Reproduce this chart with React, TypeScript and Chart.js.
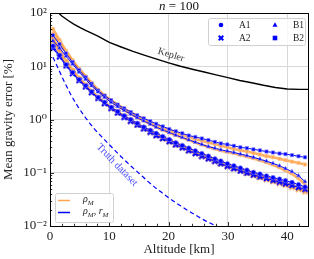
import React, { useEffect, useRef } from 'react';
import { Chart, registerables } from 'chart.js';

Chart.register(...registerables);

// ---------------- data ----------------
const altitudes = [0.5, 1.6, 2.7, 3.8, 4.9, 6.0, 7.0, 8.1, 9.2, 10.3, 11.4, 12.5, 13.6, 14.7, 15.8, 16.9, 17.9, 19.0, 20.1, 21.2, 22.3, 23.4, 24.5, 25.6, 26.7, 27.8, 28.8, 29.9, 31.0, 32.1, 33.2, 34.3, 35.4, 36.5, 37.6, 38.7, 39.7, 40.8, 41.9, 43.0];

// rho_M (orange)
const a1Rho = [35, 20, 12.5, 8.5, 6.0, 4.5, 3.4, 2.65, 2.1, 1.7, 1.4, 1.16, 0.98, 0.83, 0.71, 0.61, 0.53, 0.465, 0.41, 0.36, 0.318, 0.283, 0.252, 0.225, 0.2, 0.178, 0.16, 0.144, 0.13, 0.118, 0.107, 0.097, 0.089, 0.082, 0.075, 0.069, 0.063, 0.058, 0.052, 0.046];
const a2Rho = [30, 18, 11.5, 8.0, 5.7, 4.3, 3.3, 2.55, 2.02, 1.64, 1.35, 1.12, 0.94, 0.8, 0.68, 0.585, 0.505, 0.44, 0.385, 0.337, 0.297, 0.262, 0.232, 0.206, 0.184, 0.165, 0.148, 0.133, 0.12, 0.108, 0.098, 0.089, 0.082, 0.075, 0.069, 0.064, 0.059, 0.054, 0.049, 0.044];
const b1Rho = [42, 28, 18.5, 12.5, 8.7, 6.3, 4.7, 3.5, 2.75, 2.2, 1.8, 1.5, 1.27, 1.09, 0.94, 0.82, 0.72, 0.635, 0.565, 0.505, 0.455, 0.41, 0.37, 0.335, 0.305, 0.28, 0.26, 0.245, 0.23, 0.215, 0.2, 0.185, 0.17, 0.155, 0.14, 0.125, 0.11, 0.095, 0.078, 0.06];
const b2Rho = [50, 31, 19.5, 13, 9.0, 6.5, 4.9, 3.6, 2.85, 2.3, 1.9, 1.6, 1.36, 1.17, 1.02, 0.9, 0.8, 0.71, 0.63, 0.57, 0.52, 0.47, 0.43, 0.4, 0.37, 0.345, 0.32, 0.3, 0.28, 0.265, 0.25, 0.235, 0.22, 0.205, 0.195, 0.183, 0.172, 0.162, 0.153, 0.143];

// rho_M, r_M (blue)
const a1RhoR = [24, 16, 10.7, 7.6, 5.6, 4.3, 3.3, 2.6, 2.1, 1.7, 1.41, 1.17, 1.0, 0.85, 0.72, 0.63, 0.55, 0.48, 0.42, 0.365, 0.325, 0.29, 0.257, 0.23, 0.205, 0.182, 0.166, 0.148, 0.135, 0.123, 0.112, 0.102, 0.095, 0.087, 0.081, 0.076, 0.071, 0.066, 0.06, 0.054];
const a2RhoR = [22, 15, 10.2, 7.3, 5.4, 4.1, 3.2, 2.5, 2.0, 1.62, 1.33, 1.1, 0.93, 0.79, 0.67, 0.58, 0.5, 0.44, 0.385, 0.335, 0.295, 0.26, 0.23, 0.205, 0.183, 0.165, 0.148, 0.133, 0.12, 0.108, 0.099, 0.091, 0.084, 0.078, 0.072, 0.067, 0.062, 0.058, 0.053, 0.049];
const b1RhoR = [30, 22, 15.5, 11, 7.8, 5.7, 4.3, 3.3, 2.6, 2.1, 1.75, 1.48, 1.26, 1.08, 0.94, 0.82, 0.72, 0.64, 0.57, 0.51, 0.46, 0.415, 0.375, 0.34, 0.31, 0.29, 0.27, 0.255, 0.24, 0.225, 0.21, 0.195, 0.18, 0.165, 0.15, 0.135, 0.12, 0.105, 0.088, 0.068];
const b2RhoR = [38, 26, 17.4, 12.0, 8.5, 6.2, 4.7, 3.5, 2.8, 2.3, 1.9, 1.62, 1.38, 1.2, 1.05, 0.93, 0.83, 0.74, 0.66, 0.6, 0.55, 0.5, 0.47, 0.44, 0.41, 0.38, 0.355, 0.34, 0.32, 0.3, 0.29, 0.275, 0.263, 0.25, 0.24, 0.23, 0.224, 0.214, 0.204, 0.195];

const keplerAlt = [1.0, 2, 3, 4, 5, 6, 7, 8, 10, 12, 14, 16, 18, 20, 22, 24, 26, 28, 30, 32, 34, 36, 38, 40, 42, 43.5];
const keplerErr = [110, 88, 73, 62, 53.5, 47, 42, 37, 28, 23, 19, 16, 13.6, 11.6, 10, 8.8, 7.8, 6.9, 6.1, 5.4, 4.9, 4.4, 4.0, 3.75, 3.68, 3.68];

const truthAlt = [0.5, 1.5, 2.5, 3.5, 4.5, 5.5, 6.5, 7.5, 9, 10.5, 12, 13.5, 15, 16.5, 18, 20, 22, 24, 26, 28, 30];
const truthErr = [14.8, 8.5, 4.9, 2.95, 1.9, 1.29, 0.91, 0.66, 0.44, 0.295, 0.2, 0.138, 0.098, 0.069, 0.05, 0.034, 0.024, 0.0174, 0.0129, 0.01, 0.0079];

const xMin = 0;
const xMax = 43.5;
const xStep = 10;
const yMin = 0.01;
const yMax = 100;
const titleText = '= 100';
const markerLabels = ['A1', 'A2', 'B1', 'B2'];

// ---------------- styles ----------------
const FONT = "'Liberation Serif', 'DejaVu Serif', serif";
const BLUE = '#0000ff';
const ORANGE = '#ffa64f';
const GRID = '#d8d8d8';

const SUP: Record<string, string> = { '-': '\u207B', '0': '\u2070', '1': '\u00B9', '2': '\u00B2', '3': '\u00B3' };
const isPow10 = (v: number) => {
  const l = Math.log10(v);
  return Math.abs(l - Math.round(l)) < 1e-6;
};

function makeX(color: string, size: number) {
  const c = document.createElement('canvas');
  c.width = size;
  c.height = size;
  const g = c.getContext('2d')!;
  g.strokeStyle = color;
  g.lineWidth = 2;
  g.beginPath();
  g.moveTo(1, 1);
  g.lineTo(size - 1, size - 1);
  g.moveTo(size - 1, 1);
  g.lineTo(1, size - 1);
  g.stroke();
  return c;
}

function drawMarker(ctx: CanvasRenderingContext2D, style: string, x: number, y: number, r: number, color: string) {
  ctx.save();
  ctx.fillStyle = color;
  ctx.strokeStyle = color;
  ctx.beginPath();
  if (style === 'circle') {
    ctx.arc(x, y, r, 0, Math.PI * 2);
    ctx.fill();
  } else if (style === 'triangle') {
    ctx.moveTo(x, y - r * 1.2);
    ctx.lineTo(x + r * 1.1, y + r * 0.8);
    ctx.lineTo(x - r * 1.1, y + r * 0.8);
    ctx.closePath();
    ctx.fill();
  } else if (style === 'rect') {
    ctx.fillRect(x - r, y - r, r * 2, r * 2);
  } else {
    ctx.lineWidth = 2;
    ctx.moveTo(x - r, y - r);
    ctx.lineTo(x + r, y + r);
    ctx.moveTo(x + r, y - r);
    ctx.lineTo(x - r, y + r);
    ctx.stroke();
  }
  ctx.restore();
}

function drawSubText(ctx: CanvasRenderingContext2D, x: number, y: number, parts: [string, 'i' | 's' | 'n'][]) {
  let cx = x;
  for (const [t, kind] of parts) {
    if (kind === 'i') ctx.font = `italic 10px ${FONT}`;
    else if (kind === 's') ctx.font = `italic 7px ${FONT}`;
    else ctx.font = `10px ${FONT}`;
    ctx.fillText(t, cx, kind === 's' ? y + 2.5 : y);
    cx += ctx.measureText(t).width;
  }
}

const overlay = {
  id: 'overlay',
  afterDraw(chart: any) {
    const ctx: CanvasRenderingContext2D = chart.ctx;
    const { left, right, top, bottom } = chart.chartArea;
    const xs = chart.scales.x;
    const ys = chart.scales.y;
    ctx.save();
    // inward ticks
    ctx.strokeStyle = '#000';
    ctx.lineWidth = 0.8;
    ctx.beginPath();
    for (const t of ys.ticks) {
      const py = Math.round(ys.getPixelForValue(t.value)) + 0.5;
      const len = isPow10(t.value) ? 4 : 2.2;
      ctx.moveTo(left, py);
      ctx.lineTo(left + len, py);
    }
    for (let v = xMin; v <= 42; v += 2) {
      const px = Math.round(xs.getPixelForValue(v)) + 0.5;
      const len = v % 10 === 0 ? 4 : 2.2;
      ctx.moveTo(px, bottom);
      ctx.lineTo(px, bottom - len);
    }
    ctx.stroke();
    // frame
    ctx.lineWidth = 1;
    ctx.strokeRect(Math.round(left) + 0.5, Math.round(top) + 0.5, Math.round(right - left), Math.round(bottom - top));

    // title
    ctx.fillStyle = '#111';
    ctx.textBaseline = 'alphabetic';
    ctx.font = `italic 13px ${FONT}`;
    const nW = ctx.measureText('n').width;
    ctx.font = `13px ${FONT}`;
    const rW = ctx.measureText(' ' + titleText).width;
    const tx = (left + right) / 2 - (nW + rW) / 2;
    ctx.font = `italic 13px ${FONT}`;
    ctx.fillText('n', tx, 10);
    ctx.font = `13px ${FONT}`;
    ctx.fillText(' ' + titleText, tx + nW, 10);

    // annotations
    ctx.save();
    ctx.translate(171, 55);
    ctx.rotate((17 * Math.PI) / 180);
    ctx.font = `10px ${FONT}`;
    ctx.fillStyle = '#333';
    ctx.textAlign = 'center';
    ctx.textBaseline = 'middle';
    ctx.fillText('Kepler', 0, 0);
    ctx.restore();

    ctx.save();
    ctx.translate(117, 165);
    ctx.rotate((46 * Math.PI) / 180);
    ctx.font = `10.5px ${FONT}`;
    ctx.fillStyle = '#4a4aff';
    ctx.textAlign = 'center';
    ctx.textBaseline = 'middle';
    ctx.fillText('Truth dataset', 0, 0);
    ctx.restore();

    // marker legend (top right)
    const lx0 = 208, ly0 = 18, lx1 = 305, ly1 = 45;
    ctx.beginPath();
    ctx.roundRect(lx0 + 0.5, ly0 + 0.5, lx1 - lx0, ly1 - ly0, 2);
    ctx.fillStyle = 'rgba(255,255,255,0.85)';
    ctx.fill();
    ctx.strokeStyle = '#d0d0d0';
    ctx.lineWidth = 1;
    ctx.stroke();
    const styles = ['circle', 'cross', 'triangle', 'rect'];
    const pos = [[221, 25], [221, 38], [275, 25], [275, 38]];
    ctx.textBaseline = 'middle';
    ctx.textAlign = 'left';
    for (let i = 0; i < 4; i++) {
      drawMarker(ctx, styles[i], pos[i][0], pos[i][1], 2.3, BLUE);
      ctx.fillStyle = '#222';
      ctx.font = `9.5px ${FONT}`;
      ctx.fillText(markerLabels[i], pos[i][0] + 18, pos[i][1] + 0.5);
    }

    // line legend (bottom left)
    const bx0 = 55, by0 = 193, bx1 = 113, by1 = 222;
    ctx.beginPath();
    ctx.roundRect(bx0 + 0.5, by0 + 0.5, bx1 - bx0, by1 - by0, 2);
    ctx.fillStyle = 'rgba(255,255,255,0.85)';
    ctx.fill();
    ctx.strokeStyle = '#d0d0d0';
    ctx.stroke();
    ctx.lineWidth = 1.5;
    ctx.strokeStyle = ORANGE;
    ctx.beginPath();
    ctx.moveTo(58, 200.5);
    ctx.lineTo(70, 200.5);
    ctx.stroke();
    ctx.strokeStyle = BLUE;
    ctx.beginPath();
    ctx.moveTo(58, 212.5);
    ctx.lineTo(70, 212.5);
    ctx.stroke();
    ctx.fillStyle = '#222';
    ctx.textBaseline = 'alphabetic';
    drawSubText(ctx, 83, 202, [['\u03C1', 'i'], ['M', 's']]);
    drawSubText(ctx, 83, 214, [['\u03C1', 'i'], ['M', 's'], [', ', 'n'], ['r', 'i'], ['M', 's']]);
    ctx.restore();
  },
};

export default function App() {
  const ref = useRef<HTMLCanvasElement>(null);
  useEffect(() => {
    const xBlue = makeX(BLUE, 7);
    const xOrange = makeX(ORANGE, 7);
    const mk = (label: string, ys: number[], style: any, orange: boolean) => ({
      label,
      data: altitudes.map((x, i) => ({ x, y: ys[i] })),
      borderColor: orange ? 'rgba(255,166,79,0.9)' : BLUE,
      borderWidth: orange ? 2.6 : 1,
      pointStyle: style === 'cross' ? (orange ? xOrange : xBlue) : style,
      pointRadius: 2.3,
      pointBackgroundColor: orange ? ORANGE : BLUE,
      pointBorderColor: orange ? 'rgba(255,200,150,0.8)' : 'rgba(130,130,255,0.8)',
      pointBorderWidth: 0.8,
      order: orange ? 3 : 2,
      tension: 0,
    });
    const datasets: any[] = [
      mk('A1 rho', a1Rho, 'circle', true),
      mk('A2 rho', a2Rho, 'cross', true),
      mk('B1 rho', b1Rho, 'triangle', true),
      mk('B2 rho', b2Rho, 'rect', true),
      mk('A1 rho r', a1RhoR, 'circle', false),
      mk('A2 rho r', a2RhoR, 'cross', false),
      mk('B1 rho r', b1RhoR, 'triangle', false),
      mk('B2 rho r', b2RhoR, 'rect', false),
      {
        label: 'Kepler',
        data: keplerAlt.map((x, i) => ({ x, y: keplerErr[i] })),
        borderColor: '#000',
        borderWidth: 1.4,
        pointRadius: 0,
        order: 4,
      },
      {
        label: 'Truth dataset',
        data: truthAlt.map((x, i) => ({ x, y: truthErr[i] })),
        borderColor: BLUE,
        borderWidth: 1.2,
        borderDash: [4.5, 3],
        pointRadius: 0,
        cubicInterpolationMode: 'monotone',
        order: 4,
      },
    ];
    const chart = new Chart(ref.current!, {
      type: 'line',
      data: { datasets },
      options: {
        animation: false,
        responsive: false,
        events: [],
        layout: { padding: { top: 13, right: 6, left: 0, bottom: 0 } },
        plugins: { legend: { display: false }, tooltip: { enabled: false }, title: { display: false } },
        scales: {
          x: {
            type: 'linear',
            min: xMin,
            max: xMax,
            ticks: { stepSize: xStep, includeBounds: false, color: '#222', font: { family: FONT, size: 13 }, padding: 3, maxRotation: 0 },
            grid: { color: GRID, drawTicks: false, lineWidth: 1 },
            border: { display: false },
            title: { display: true, text: 'Altitude [km]', color: '#222', font: { family: FONT, size: 13 }, padding: { top: 2, bottom: 2 } },
            afterFit: (s: any) => {
              s.height = 33;
            },
          },
          y: {
            type: 'logarithmic',
            min: yMin,
            max: yMax,
            ticks: {
              autoSkip: false,
              color: '#222',
              font: { family: FONT, size: 13 },
              padding: 3,
              callback: (v: any) => {
                const n = Number(v);
                if (!isPow10(n)) return '';
                const e = String(Math.round(Math.log10(n)));
                return '10' + e.split('').map((c) => SUP[c]).join('');
              },
            },
            grid: {
              color: (c: any) => (c.tick && isPow10(c.tick.value) ? GRID : 'rgba(0,0,0,0)'),
              drawTicks: false,
              lineWidth: 1,
            },
            border: { display: false },
            title: { display: true, text: 'Mean gravity error [%]', color: '#222', font: { family: FONT, size: 13 }, padding: { top: 1, bottom: 0 } },
            afterFit: (s: any) => {
              s.width = 50;
            },
          },
        },
      },
      plugins: [overlay],
    } as any);
    return () => chart.destroy();
  }, []);
  return (
    <div style={{ position: 'fixed', left: 0, top: 0, width: 314, height: 259, background: '#fff' }}>
      <canvas ref={ref} width={314} height={259} />
    </div>
  );
}
